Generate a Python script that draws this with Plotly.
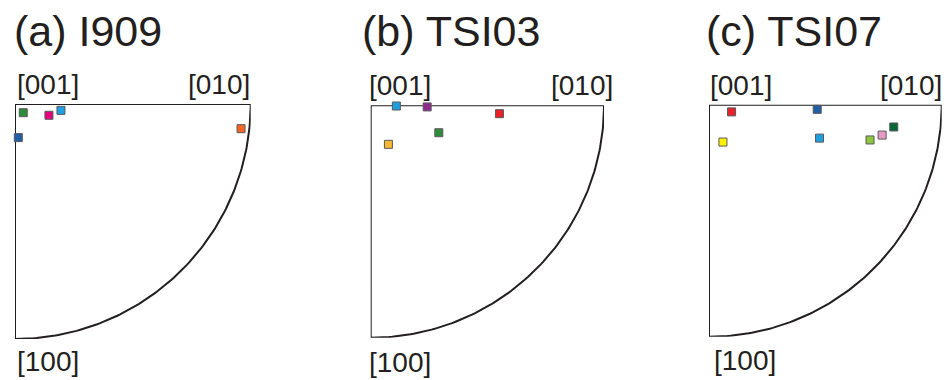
import numpy as np
import plotly.graph_objects as go

W, H = 948, 380

# ---- data (fractional positions inside each sector: x from [001] toward [010], y from [001] toward [100])
titles = ["(a) I909", "(b) TSI03", "(c) TSI07"]

a_x = [0.035, 0.144, 0.195, 0.014, 0.959]
a_y = [0.037, 0.048, 0.027, 0.143, 0.105]
a_c = ["#2e8b3a", "#e6007e", "#1ea0e0", "#1f5fa8", "#f26522"]

b_x = [0.110, 0.242, 0.552, 0.292, 0.076]
b_y = [0.003, 0.007, 0.036, 0.118, 0.168]
b_c = ["#1ea0e0", "#8e2c8e", "#e8202a", "#2e8b3a", "#f5b82e"]

c_x = [0.097, 0.465, 0.060, 0.475, 0.692, 0.744, 0.794]
c_y = [0.031, 0.020, 0.161, 0.144, 0.152, 0.131, 0.096]
c_c = ["#e8202a", "#1f5fa8", "#fff200", "#1ea0e0", "#8dc63f", "#e89ac7", "#006837"]

corner_labels = ["[001]", "[010]", "[100]"]

# ---- layout geometry (pixels)
panels_px = [  # left, right, top, bottom
    (15, 250.7, 104, 339),
    (370.7, 604, 105.3, 337.7),
    (709, 941.7, 104.7, 336.7),
]
title_x = [12, 360, 704]
title_y = 31
top_lab_y = [84.5, 85.5, 85.8]
bot_lab_y = [361.5, 362.5, 360.5]
right_lab_x = [252, 615, 943.5]
left_lab_x = [15, 366.5, 708]
bot_lab_x = [15, 367, 712]

INK = "#231f20"
FONT = "Liberation Sans, Arial, Helvetica, sans-serif"

fig = go.Figure()

theta = np.linspace(0, np.pi / 2, 120)
outline_x = [0.0, 1.0] + list(np.cos(theta))[1:] + [0.0]
outline_y = [0.0, 0.0] + list(np.sin(theta))[1:] + [0.0]

data = [(a_x, a_y, a_c), (b_x, b_y, b_c), (c_x, c_y, c_c)]

annotations = []
for i, ((xs, ys, cs), (l, r, t, b)) in enumerate(zip(data, panels_px)):
    suffix = "" if i == 0 else str(i + 1)
    xa, ya = "x" + suffix, "y" + suffix
    fig.add_trace(go.Scatter(
        x=outline_x, y=outline_y, mode="lines",
        line=dict(color=INK, width=2), xaxis=xa, yaxis=ya,
        hoverinfo="skip", showlegend=False, cliponaxis=False))
    fig.add_trace(go.Scatter(
        x=xs, y=ys, mode="markers", xaxis=xa, yaxis=ya,
        marker=dict(symbol="square", size=8, color=cs,
                    line=dict(color="#5a5a5a", width=1)),
        cliponaxis=False, showlegend=False))
    dom_x = [l / W, r / W]
    dom_y = [(H - b) / H, (H - t) / H]
    ax = dict(domain=dom_x, range=[0, 1], visible=False, fixedrange=True)
    ay = dict(domain=dom_y, range=[1, 0], visible=False, fixedrange=True)
    if i > 0:
        ax["anchor"] = ya
        ay["anchor"] = xa
    fig.update_layout(**{"xaxis" + suffix: ax, "yaxis" + suffix: ay})

    annotations.append(dict(text=titles[i], x=title_x[i] / W, y=(H - title_y) / H,
                            xref="paper", yref="paper", xanchor="left", yanchor="middle",
                            showarrow=False, font=dict(size=43, color=INK, family=FONT)))
    annotations.append(dict(text=corner_labels[0], x=left_lab_x[i] / W, y=(H - top_lab_y[i]) / H,
                            xref="paper", yref="paper", xanchor="left", yanchor="middle",
                            showarrow=False, font=dict(size=28, color=INK, family=FONT)))
    annotations.append(dict(text=corner_labels[1], x=right_lab_x[i] / W, y=(H - top_lab_y[i]) / H,
                            xref="paper", yref="paper", xanchor="right", yanchor="middle",
                            showarrow=False, font=dict(size=28, color=INK, family=FONT)))
    annotations.append(dict(text=corner_labels[2], x=bot_lab_x[i] / W, y=(H - bot_lab_y[i]) / H,
                            xref="paper", yref="paper", xanchor="left", yanchor="middle",
                            showarrow=False, font=dict(size=28, color=INK, family=FONT)))

fig.update_layout(
    width=W, height=H, margin=dict(l=0, r=0, t=0, b=0),
    paper_bgcolor="white", plot_bgcolor="white",
    annotations=annotations, showlegend=False,
)

fig.write_html("out.html", config={"displayModeBar": False},
               post_script="document.body.style.margin='0';document.body.style.overflow='hidden';")
